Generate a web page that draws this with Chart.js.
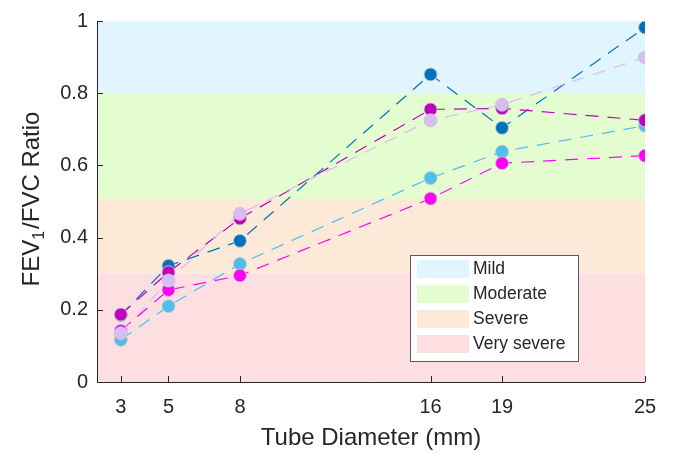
<!DOCTYPE html>
<html>
<head>
<meta charset="utf-8">
<script src="https://cdn.jsdelivr.net/npm/chart.js@4.4.1/dist/chart.umd.min.js"></script>
<style>
html,body{margin:0;padding:0;background:#fff;}
#wrap{width:674px;height:454px;position:relative;}
</style>
</head>
<body>
<div id="wrap"><canvas id="c" width="674" height="454"></canvas></div>
<script>
// ---- data ----
const tubeDiameters = [3, 5, 8, 16, 19, 25];
const xTickValues = [3, 5, 8, 16, 19, 25];
const yTickStep = 0.2;
const seriesDarkBlue  = [0.185, 0.322, 0.391, 0.852, 0.704, 0.982];
const seriesLightBlue = [0.117, 0.210, 0.327, 0.565, 0.638, 0.710];
const seriesMagenta   = [0.142, 0.255, 0.295, 0.508, 0.606, 0.627];
const seriesPurple    = [0.187, 0.304, 0.453, 0.755, 0.758, 0.725];
const seriesLavender  = [0.135, 0.281, 0.466, 0.725, 0.768, 0.899];
const bandLabels = ['Mild', 'Moderate', 'Severe', 'Very severe'];
const bandUpper  = [1.0, 0.8, 0.507, 0.3];
const bandLower  = [0.8, 0.507, 0.3, 0.0];
const bandColors = ['#e0f5fe', '#e4fdd0', '#fde9d8', '#fddfe2'];

const FONT = '"Liberation Sans", Arial, Helvetica, sans-serif';
const TXT = '#262626';

function ds(label, data, color, order) {
  return {
    label, data: tubeDiameters.map((x, i) => ({x, y: data[i]})),
    borderColor: color, backgroundColor: color,
    borderWidth: 1.2, borderDash: [13, 9],
    pointRadius: 6.5, pointHoverRadius: 6.5,
    pointBackgroundColor: color, pointBorderColor: 'rgba(200,200,200,0.9)', pointBorderWidth: 1,
    showLine: true, tension: 0, order
  };
}

const bgPlugin = {
  id: 'bg',
  beforeDraw(chart) {
    const {ctx, chartArea: {left, right}, scales: {y}} = chart;
    ctx.save();
    ctx.fillStyle = '#fff';
    ctx.fillRect(0, 0, chart.width, chart.height);
    for (let i = 0; i < bandLabels.length; i++) {
      const t = y.getPixelForValue(bandUpper[i]);
      const b = y.getPixelForValue(bandLower[i]);
      ctx.fillStyle = bandColors[i];
      ctx.fillRect(left, t, right - left, b - t);
    }
    ctx.restore();
  },
  afterDraw(chart) {
    const {ctx, chartArea: {left, right, top, bottom}, scales: {x, y}} = chart;
    ctx.save();
    // axes
    ctx.strokeStyle = '#262626';
    ctx.lineWidth = 1;
    ctx.beginPath();
    ctx.moveTo(left + 0.5, top);
    ctx.lineTo(left + 0.5, bottom + 0.5);
    ctx.lineTo(right, bottom + 0.5);
    ctx.stroke();
    // inward ticks
    ctx.beginPath();
    for (let v = 0; v <= 1.0001; v += yTickStep) {
      const py = Math.round(y.getPixelForValue(v)) + 0.5;
      ctx.moveTo(left, py); ctx.lineTo(left + 6, py);
    }
    xTickValues.forEach(v => {
      const px = Math.round(x.getPixelForValue(v)) + 0.5;
      ctx.moveTo(px, bottom); ctx.lineTo(px, bottom - 6);
    });
    ctx.stroke();
    // axis titles
    ctx.fillStyle = TXT;
    ctx.font = '24px ' + FONT;
    ctx.textAlign = 'center';
    ctx.textBaseline = 'middle';
    ctx.fillText('Tube Diameter (mm)', (left + right) / 2, 438);
    // y title with subscript
    ctx.translate(30, 199);
    ctx.rotate(-Math.PI / 2);
    const p1 = 'FEV', sub = '1', p2 = '/FVC Ratio';
    ctx.font = '24px ' + FONT;
    const w1 = ctx.measureText(p1).width, w3 = ctx.measureText(p2).width;
    ctx.font = '16px ' + FONT;
    const w2 = ctx.measureText(sub).width;
    const total = w1 + w2 + 2 + w3;
    let cx = -total / 2;
    ctx.textAlign = 'left';
    ctx.textBaseline = 'alphabetic';
    ctx.font = '24px ' + FONT;
    ctx.fillText(p1, cx, 8.5); cx += w1;
    ctx.font = '16px ' + FONT;
    ctx.fillText(sub, cx, 14); cx += w2 + 2;
    ctx.font = '24px ' + FONT;
    ctx.fillText(p2, cx, 8.5);
    ctx.restore();
    // legend
    ctx.save();
    const lx = 410.5, ly = 255.5, lw = 168, lh = 106;
    ctx.fillStyle = '#fff';
    ctx.fillRect(lx, ly, lw, lh);
    ctx.strokeStyle = '#595959';
    ctx.lineWidth = 1;
    ctx.strokeRect(lx, ly, lw, lh);
    ctx.font = '17.5px ' + FONT;
    ctx.textAlign = 'left';
    ctx.textBaseline = 'middle';
    for (let i = 0; i < bandLabels.length; i++) {
      const ry = 260 + 25 * i;
      ctx.fillStyle = bandColors[i];
      ctx.fillRect(417, ry, 52, 18);
      ctx.fillStyle = TXT;
      ctx.fillText(bandLabels[i], 473, ry + 9.5);
    }
    ctx.restore();
  }
};

new Chart(document.getElementById('c'), {
  type: 'scatter',
  data: {
    datasets: [
      ds('Series 1', seriesDarkBlue, '#0072bd', 5),
      ds('Series 2', seriesLightBlue, '#4dbeee', 4),
      ds('Series 3', seriesMagenta, '#ff00ff', 3),
      ds('Series 4', seriesPurple, '#bf00bf', 2),
      ds('Series 5', seriesLavender, '#d9bcf5', 1)
    ]
  },
  options: {
    responsive: false, animation: false,
    layout: {padding: {top: 18, right: 29, left: 0, bottom: 0}},
    plugins: {legend: {display: false}, tooltip: {enabled: false}},
    scales: {
      x: {
        type: 'linear', min: 2, max: 25,
        grid: {display: false, drawTicks: false}, border: {display: false},
        afterBuildTicks: s => { s.ticks = xTickValues.map(v => ({value: v})); },
        afterFit: s => { s.height = 72; },
        ticks: {font: {family: FONT, size: 20}, color: TXT, padding: 13, maxRotation: 0, autoSkip: false}
      },
      y: {
        type: 'linear', min: 0, max: 1,
        grid: {display: false, drawTicks: false}, border: {display: false},
        afterFit: s => { s.width = 97; },
        ticks: {stepSize: yTickStep, font: {family: FONT, size: 20}, color: TXT, padding: 9,
          callback: v => String(+v.toFixed(1))}
      }
    }
  },
  plugins: [bgPlugin]
});
</script>
</body>
</html>
